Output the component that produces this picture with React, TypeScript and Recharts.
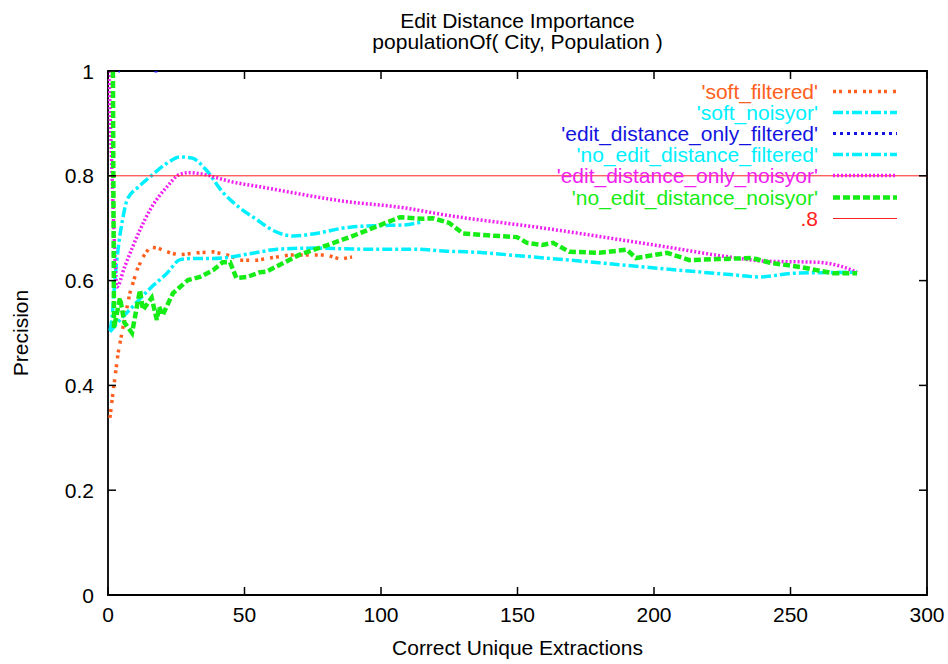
import { Label, Line, LineChart, ReferenceArea, XAxis, YAxis } from "recharts";

const FONT = '"Liberation Sans", Arial, Helvetica, sans-serif';
const PLOT = { left: 108, right: 927, top: 71, bottom: 595 };

type Pt = { x: number; y: number | null };

const xTicks = [0, 50, 100, 150, 200, 250, 300];
const yTicks = [0, 0.2, 0.4, 0.6, 0.8, 1];
const yTickLabels = ["0", "0.2", "0.4", "0.6", "0.8", "1"];

const softFiltered: Pt[] = [
  { x: 0.7, y: 0.338 }, { x: 1.8, y: 0.385 }, { x: 3.7, y: 0.462 }, { x: 5.5, y: 0.511 },
  { x: 8, y: 0.576 }, { x: 10.6, y: 0.62 }, { x: 12.8, y: 0.645 }, { x: 15.4, y: 0.664 },
  { x: 18.3, y: 0.662 }, { x: 22.7, y: 0.653 }, { x: 26, y: 0.649 }, { x: 32.6, y: 0.653 },
  { x: 38.5, y: 0.655 }, { x: 43.6, y: 0.649 }, { x: 48.4, y: 0.639 }, { x: 54.6, y: 0.639 },
  { x: 59.3, y: 0.643 }, { x: 66.7, y: 0.649 }, { x: 74, y: 0.649 }, { x: 80, y: 0.649 },
  { x: 85, y: 0.641 }, { x: 89.4, y: 0.645 },
];

const softNoisyor: Pt[] = [
  { x: 0.7, y: 0.502 }, { x: 4.4, y: 0.525 }, { x: 9, y: 0.55 }, { x: 15.4, y: 0.585 },
  { x: 21.6, y: 0.614 }, { x: 26.4, y: 0.64 }, { x: 30, y: 0.642 }, { x: 38.5, y: 0.642 },
  { x: 43.6, y: 0.644 }, { x: 49.5, y: 0.649 }, { x: 55, y: 0.654 }, { x: 62, y: 0.66 },
  { x: 76.5, y: 0.662 }, { x: 93.4, y: 0.66 }, { x: 111.7, y: 0.66 }, { x: 124, y: 0.656 },
  { x: 131, y: 0.655 }, { x: 155.7, y: 0.645 }, { x: 180, y: 0.634 }, { x: 204.8, y: 0.622 },
  { x: 229, y: 0.611 }, { x: 238.8, y: 0.607 }, { x: 251, y: 0.614 }, { x: 274.4, y: 0.616 },
];

const editOnlyFiltered: Pt[] = [
  { x: 3.8, y: 1 }, { x: 4.4, y: 1 }, { x: 4.5, y: null }, { x: 17, y: 1 }, { x: 19.6, y: 1 },
];

const noEditFiltered: Pt[] = [
  { x: 0.8, y: 0.505 }, { x: 1.5, y: 0.53 }, { x: 2.5, y: 0.6 }, { x: 3.7, y: 0.66 },
  { x: 5.5, y: 0.721 }, { x: 7, y: 0.754 }, { x: 11, y: 0.778 }, { x: 15.4, y: 0.798 },
  { x: 21.6, y: 0.824 }, { x: 26.4, y: 0.836 }, { x: 30.7, y: 0.834 }, { x: 36, y: 0.811 },
  { x: 42, y: 0.769 }, { x: 48, y: 0.74 }, { x: 54.6, y: 0.716 }, { x: 60, y: 0.697 },
  { x: 68, y: 0.685 }, { x: 75, y: 0.689 }, { x: 88.6, y: 0.702 }, { x: 100, y: 0.705 },
  { x: 108, y: 0.706 }, { x: 115, y: 0.712 },
];

const editOnlyNoisyor: Pt[] = [
  { x: 0.3, y: 1 }, { x: 1.5, y: 0.8 }, { x: 2.5, y: 0.65 }, { x: 3.3, y: 0.588 },
  { x: 6, y: 0.625 }, { x: 9, y: 0.664 }, { x: 12, y: 0.7 }, { x: 15.4, y: 0.735 },
  { x: 21.6, y: 0.779 }, { x: 26.4, y: 0.803 }, { x: 30, y: 0.806 }, { x: 33.7, y: 0.804 },
  { x: 45.8, y: 0.788 }, { x: 55.7, y: 0.779 }, { x: 88.6, y: 0.75 }, { x: 107, y: 0.74 },
  { x: 125, y: 0.724 }, { x: 155.7, y: 0.703 }, { x: 204.8, y: 0.664 }, { x: 229, y: 0.644 },
  { x: 241, y: 0.637 }, { x: 260, y: 0.635 }, { x: 268, y: 0.628 }, { x: 274.4, y: 0.616 },
];

const noEditNoisyor: Pt[] = [
  { x: 1.8, y: 1 }, { x: 2, y: 0.75 }, { x: 2.2, y: 0.51 }, { x: 4.4, y: 0.567 },
  { x: 6, y: 0.52 }, { x: 8.8, y: 0.5 }, { x: 11.7, y: 0.582 }, { x: 12.8, y: 0.544 },
  { x: 16, y: 0.567 }, { x: 17.9, y: 0.525 }, { x: 18.7, y: 0.55 }, { x: 20, y: 0.534 },
  { x: 23.8, y: 0.576 }, { x: 29.3, y: 0.601 }, { x: 33.7, y: 0.607 }, { x: 38.5, y: 0.62 },
  { x: 42, y: 0.635 }, { x: 44.7, y: 0.635 }, { x: 47, y: 0.605 }, { x: 51, y: 0.607 },
  { x: 55.7, y: 0.616 }, { x: 58, y: 0.617 }, { x: 70, y: 0.649 }, { x: 88.6, y: 0.683 },
  { x: 107, y: 0.721 }, { x: 115.4, y: 0.718 }, { x: 119, y: 0.719 }, { x: 125, y: 0.71 },
  { x: 130, y: 0.69 }, { x: 137, y: 0.687 }, { x: 149.8, y: 0.683 }, { x: 153.5, y: 0.672 },
  { x: 159, y: 0.668 }, { x: 163, y: 0.672 }, { x: 169, y: 0.655 }, { x: 180, y: 0.653 },
  { x: 190, y: 0.659 }, { x: 193.4, y: 0.643 }, { x: 204.8, y: 0.653 }, { x: 213, y: 0.639 },
  { x: 223, y: 0.641 }, { x: 236, y: 0.643 }, { x: 242.5, y: 0.634 }, { x: 253.5, y: 0.626 },
  { x: 265.6, y: 0.614 }, { x: 274.4, y: 0.614 },
];

const pointEight: Pt[] = [{ x: 0, y: 0.8 }, { x: 300, y: 0.8 }];

const series = [
  { name: "'soft_filtered'", data: softFiltered, color: "#ff6020", dash: "3 3 3 6", width: 3.5, curve: "linear" },
  { name: "'soft_noisyor'", data: softNoisyor, color: "#00f0ff", dash: "10 3 3 3", width: 3.5, curve: "monotone" },
  { name: "'edit_distance_only_filtered'", data: editOnlyFiltered, color: "#1414e0", dash: "3 4", width: 3, curve: "linear" },
  { name: "'no_edit_distance_filtered'", data: noEditFiltered, color: "#00f0ff", dash: "10 3 3 3", width: 3.5, curve: "monotone" },
  { name: "'edit_distance_only_noisyor'", data: editOnlyNoisyor, color: "#f020f0", dash: "2 2", width: 3.5, curve: "monotone" },
  { name: "'no_edit_distance_noisyor'", data: noEditNoisyor, color: "#16ec16", dash: "7 3", width: 4.5, curve: "linear" },
  { name: ".8", data: pointEight, color: "#ff2020", dash: undefined, width: 1, curve: "linear" },
] as const;

function XTick({ x, y, payload }: any) {
  return (
    <g>
      <line x1={x} y1={PLOT.bottom} x2={x} y2={PLOT.bottom - 8} stroke="#000" strokeWidth={1.5} />
      <line x1={x} y1={PLOT.top} x2={x} y2={PLOT.top + 8} stroke="#000" strokeWidth={1.5} />
      <text x={x} y={y + 27} textAnchor="middle" fontSize={21} fontFamily={FONT} fill="#000">
        {payload.value}
      </text>
    </g>
  );
}

function YTick({ x, y, payload, index }: any) {
  return (
    <g>
      <line x1={PLOT.left} y1={y} x2={PLOT.left + 8} y2={y} stroke="#000" strokeWidth={1.5} />
      <line x1={PLOT.right} y1={y} x2={PLOT.right - 8} y2={y} stroke="#000" strokeWidth={1.5} />
      <text x={x - 14} y={y + 7.5} textAnchor="end" fontSize={21} fontFamily={FONT} fill="#000">
        {yTickLabels[index] ?? payload.value}
      </text>
    </g>
  );
}

function LegendBox() {
  return (
    <div style={{ position: "absolute", left: 0, top: 81, width: 948 }}>
      {series.map((s) => (
        <div key={s.name} style={{ display: "flex", alignItems: "center", height: 21.1 }}>
          <div
            style={{
              width: 818,
              textAlign: "right",
              color: s.color,
              fontSize: 21,
              lineHeight: "21px",
              whiteSpace: "nowrap",
            }}
          >
            {s.name}
          </div>
          <svg width={80} height={21} style={{ marginLeft: 15 }}>
            <line
              x1={0}
              y1={10.5}
              x2={64}
              y2={10.5}
              stroke={s.color}
              strokeWidth={s.width}
              strokeDasharray={s.dash}
            />
          </svg>
        </div>
      ))}
    </div>
  );
}

export default function App() {
  return (
    <div
      style={{
        position: "absolute",
        left: 0,
        top: 0,
        width: 948,
        height: 664,
        background: "#fff",
        fontFamily: FONT,
      }}
    >
      <div
        style={{
          position: "absolute",
          top: 9.5,
          left: PLOT.left,
          width: PLOT.right - PLOT.left,
          textAlign: "center",
          fontSize: 21,
          lineHeight: "21px",
          color: "#000",
        }}
      >
        <div>Edit Distance Importance</div>
        <div>populationOf( City, Population )</div>
      </div>

      <LineChart width={948} height={664} margin={{ top: 71, right: 21, bottom: 0, left: 0 }}>
        <XAxis
          dataKey="x"
          type="number"
          domain={[0, 300]}
          ticks={xTicks}
          allowDataOverflow
          height={69}
          axisLine={false}
          tickLine={false}
          tickSize={0}
          tickMargin={0}
          tick={(p: any) => <XTick {...p} />}
          interval={0}
        >
          <Label
            content={({ viewBox }: any) => (
              <text
                x={viewBox.x + viewBox.width / 2}
                y={viewBox.y + 60}
                textAnchor="middle"
                fontSize={21}
                fontFamily={FONT}
                fill="#000"
              >
                Correct Unique Extractions
              </text>
            )}
          />
        </XAxis>
        <YAxis
          type="number"
          domain={[0, 1]}
          ticks={yTicks}
          allowDataOverflow
          width={108}
          axisLine={false}
          tickLine={false}
          tickSize={0}
          tickMargin={0}
          tick={(p: any) => <YTick {...p} />}
          interval={0}
        >
          <Label
            content={({ viewBox }: any) => {
              const cy = viewBox.y + viewBox.height / 2;
              return (
                <text
                  x={20}
                  y={cy}
                  transform={`rotate(-90, 20, ${cy})`}
                  textAnchor="middle"
                  dominantBaseline="central"
                  fontSize={21}
                  fontFamily={FONT}
                  fill="#000"
                >
                  Precision
                </text>
              );
            }}
          />
        </YAxis>
        <ReferenceArea
          x1={0}
          x2={300}
          y1={0}
          y2={1}
          fill="none"
          stroke="#000"
          strokeWidth={1.8}
          ifOverflow="visible"
        />
        {series.map((s) => (
          <Line
            key={s.name}
            data={s.data as Pt[]}
            dataKey="y"
            type={s.curve}
            stroke={s.color}
            strokeWidth={s.width}
            strokeDasharray={s.dash}
            dot={false}
            activeDot={false}
            connectNulls={false}
            isAnimationActive={false}
          />
        ))}
      </LineChart>

      <LegendBox />
    </div>
  );
}
